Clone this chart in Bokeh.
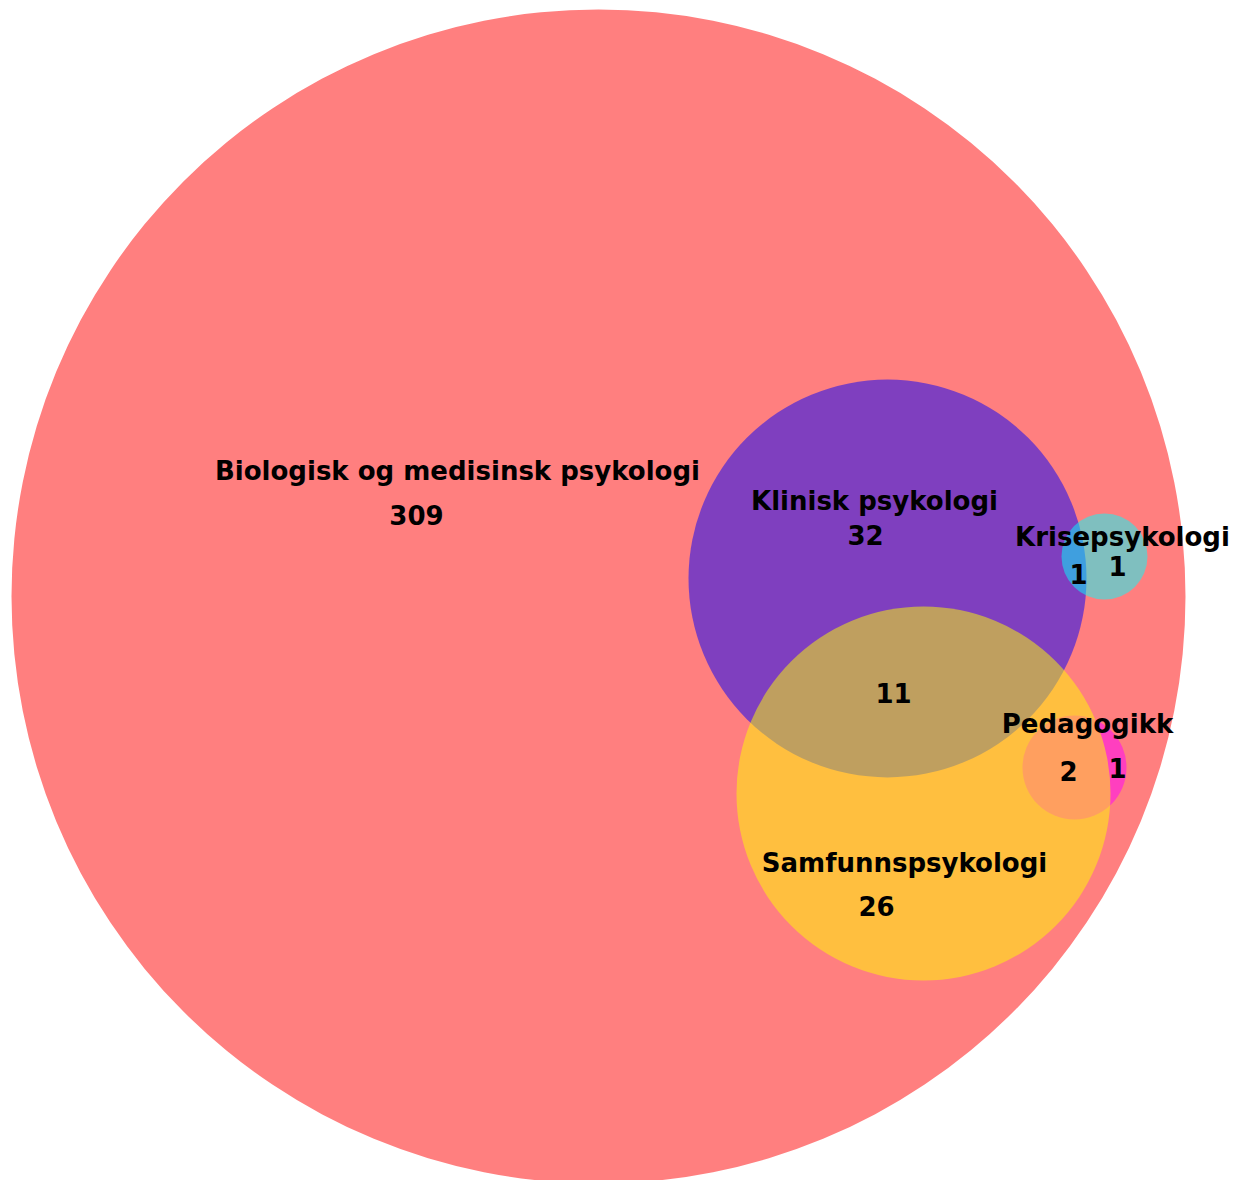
from bokeh.plotting import figure
from bokeh.models import Range1d, ColumnDataSource
from bokeh.core.properties import value
from bokeh.embed import file_html
from bokeh.resources import INLINE

# ---- data ----
set_names = ["Biologisk og medisinsk psykologi", "Klinisk psykologi", "Pedagogikk",
             "Samfunnspsykologi", "Krisepsykologi"]
set_colors = ["#FF0000", "#0000FF", "#FF00FF", "#FFFF00", "#00FFFF"]
region_counts = ["309", "32", "26", "11", "2", "1", "1", "1"]

# ---- layout (screen-pixel coordinates of the diagram) ----
circle_x = [598, 887, 1074, 923, 1104]
circle_y = [596, 578, 767, 793, 556]
circle_r = [587, 199, 52, 187, 43]

label_x = [457, 874, 1087, 904, 1122]
label_y = [470, 500, 723, 862, 536]

count_x = [416, 865, 876, 893, 1068, 1117, 1078, 1117]
count_y = [514, 534, 905, 692, 770, 767, 573, 565]

W, H = 1240, 1180
p = figure(width=W, height=H, output_backend="svg", toolbar_location=None,
           x_range=Range1d(0, W), y_range=Range1d(H, 0),
           min_border=0, outline_line_color=None)
p.axis.visible = False
p.grid.visible = False
p.background_fill_color = "white"
p.border_fill_color = "white"

circles = ColumnDataSource(dict(x=circle_x, y=circle_y, r=circle_r, c=set_colors))
p.circle(x="x", y="y", radius="r", fill_color="c", fill_alpha=0.5,
         line_color=None, source=circles)

labels = ColumnDataSource(dict(x=label_x, y=label_y, t=set_names))
p.text(x="x", y="y", text="t", source=labels, text_font=value("DejaVu Sans"),
       text_font_style="bold", text_font_size="26px", text_align="center",
       text_baseline="middle", text_color="#000000")

counts = ColumnDataSource(dict(x=count_x, y=count_y, t=region_counts))
p.text(x="x", y="y", text="t", source=counts, text_font=value("DejaVu Sans"),
       text_font_style="bold", text_font_size="26px", text_align="center",
       text_baseline="middle", text_color="#000000")

open("out.html", "w").write(file_html(p, INLINE))
